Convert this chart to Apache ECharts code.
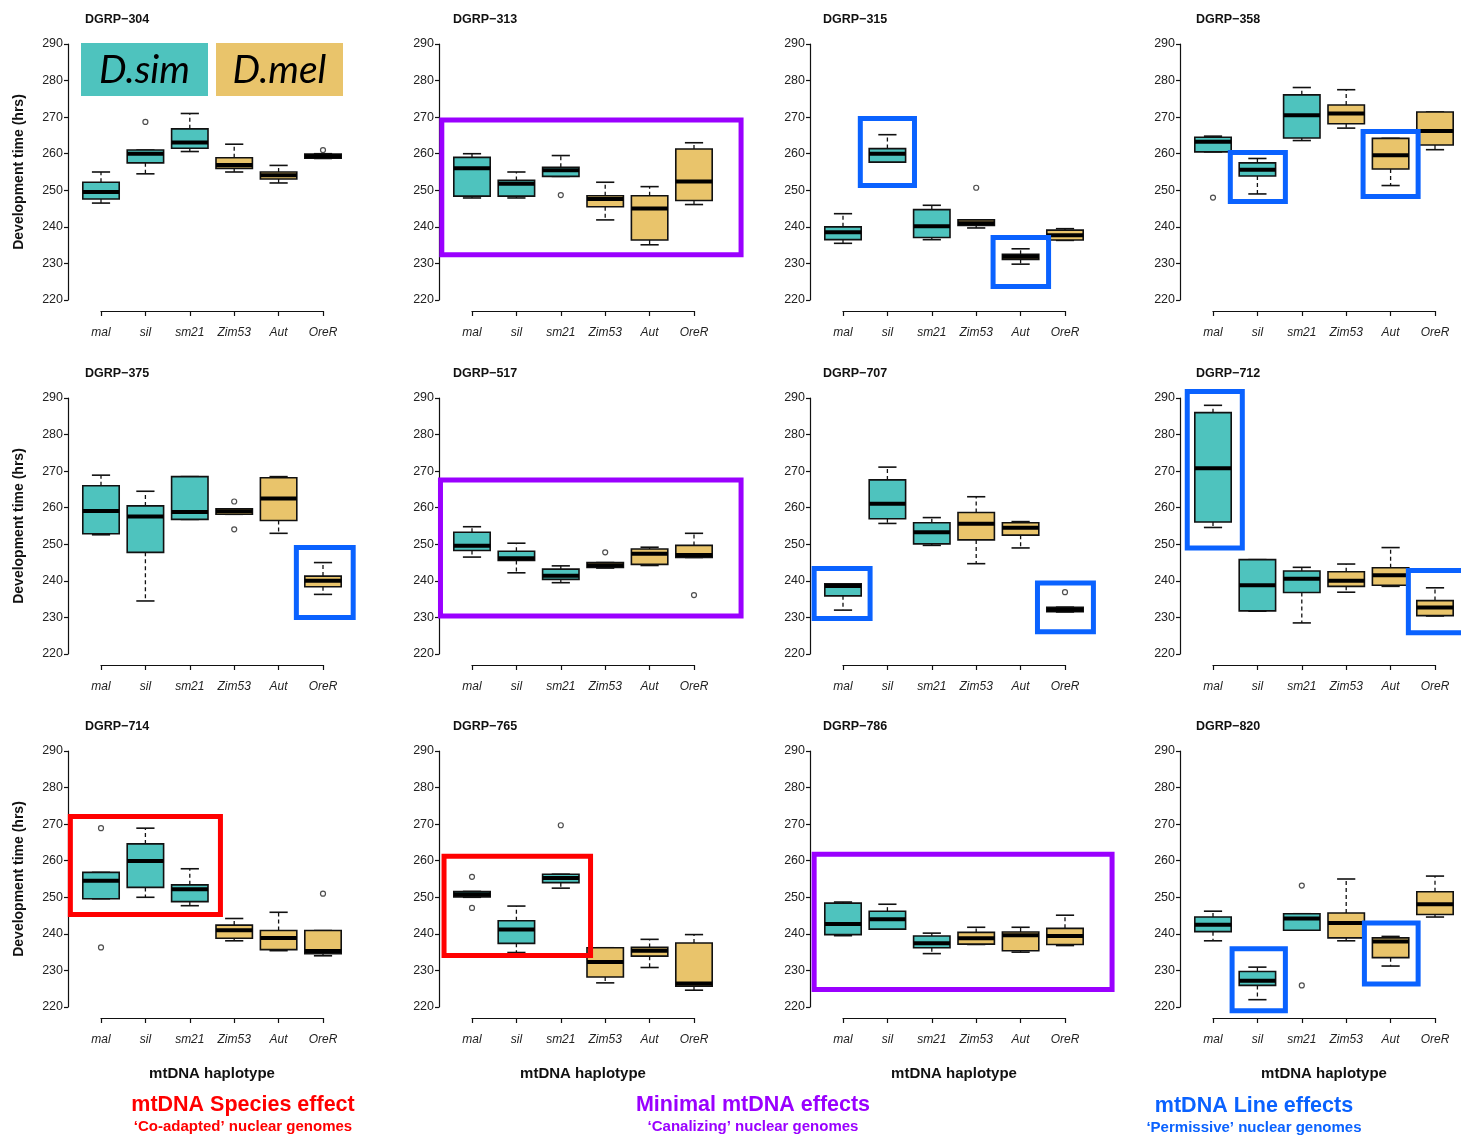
<!DOCTYPE html>
<html>
<head>
<meta charset="utf-8">
<script src="https://cdn.jsdelivr.net/npm/echarts@6/dist/echarts.min.js"></script>
<style>
  html, body { margin: 0; padding: 0; background: #fff; }
  #chart { width: 1461px; height: 1135px; }
</style>
</head>
<body>
<div id="chart"></div>
<script>
// mtDNA haplotypes on every x axis (first three D. simulans, last three D. melanogaster)
const haplotypes = ['mal', 'sil', 'sm21', 'Zim53', 'Aut', 'OreR'];
const nuclearLines = ['DGRP−304', 'DGRP−313', 'DGRP−315', 'DGRP−358',
                      'DGRP−375', 'DGRP−517', 'DGRP−707', 'DGRP−712',
                      'DGRP−714', 'DGRP−765', 'DGRP−786', 'DGRP−820'];
const yMin = 220, yMax = 290, yStep = 10;

// development time (hrs): [lower whisker, Q1, median, Q3, upper whisker] per haplotype
const dgrp304 = [[246.5, 247.6, 249.5, 252.2, 255.0], [254.5, 257.5, 260.0, 261.0, 261.0], [260.6, 261.5, 263.1, 266.8, 271.0],
                 [255.0, 256.0, 256.9, 258.9, 262.6], [252.0, 253.1, 254.1, 255.0, 256.8], [258.7, 258.8, 259.3, 259.9, 260.0]];
const dgrp313 = [[247.9, 248.4, 256.0, 259.0, 260.0], [247.9, 248.4, 251.8, 252.7, 255.0], [253.8, 253.8, 255.5, 256.3, 259.5],
                 [241.9, 245.5, 247.6, 248.5, 252.2], [235.1, 236.4, 245.0, 248.5, 251.0], [246.1, 247.2, 252.4, 261.3, 263.0]];
const dgrp315 = [[235.5, 236.5, 238.5, 240.0, 243.6], [257.7, 257.7, 260.0, 261.4, 265.2], [236.5, 237.1, 240.2, 244.7, 245.9],
                 [239.7, 240.4, 241.0, 241.9, 241.9], [229.8, 231.1, 231.8, 232.5, 234.0], [236.3, 236.4, 237.7, 239.1, 239.5]];
const dgrp358 = [[260.5, 260.5, 263.3, 264.5, 264.8], [249.0, 253.9, 255.6, 257.5, 258.7], [263.6, 264.3, 270.5, 276.1, 278.1],
                 [267.0, 268.2, 271.0, 273.3, 277.5], [251.3, 255.8, 259.6, 264.2, 264.2], [261.1, 262.4, 266.2, 271.4, 271.4]];
const dgrp375 = [[252.6, 252.9, 259.1, 266.0, 268.9], [234.5, 247.8, 257.6, 260.5, 264.5], [256.8, 256.8, 258.8, 268.5, 268.5],
                 [258.2, 258.2, 259.0, 259.7, 259.7], [253.0, 256.5, 262.5, 268.2, 268.5], [236.3, 238.4, 240.0, 241.3, 245.0]];
const dgrp517 = [[246.5, 248.3, 249.6, 253.3, 254.8], [242.2, 245.6, 246.2, 248.1, 250.3], [239.5, 240.4, 241.4, 243.2, 244.1],
                 [243.5, 243.7, 244.3, 245.0, 245.0], [244.2, 244.5, 247.4, 248.7, 249.2], [246.4, 246.4, 247.1, 249.7, 253.0]];
const dgrp707 = [[232.0, 235.9, 238.6, 239.2, 239.2], [255.7, 257.0, 261.1, 267.6, 271.1], [249.7, 250.1, 253.3, 255.9, 257.3],
                 [244.7, 251.2, 255.6, 258.7, 263.0], [249.0, 252.5, 254.5, 255.9, 256.2], [231.5, 231.6, 232.1, 232.8, 232.8]];
const dgrp712 = [[254.6, 256.1, 270.8, 286.0, 288.0], [231.7, 231.8, 238.8, 245.8, 245.8], [228.5, 236.8, 240.6, 242.7, 243.7],
                 [236.9, 238.5, 240.0, 242.5, 244.6], [238.5, 238.8, 241.5, 243.6, 249.1], [230.4, 230.5, 232.7, 234.6, 238.1]];
const dgrp714 = [[249.6, 249.6, 254.5, 256.8, 256.8], [250.0, 252.7, 259.9, 264.6, 268.9], [247.7, 248.8, 252.2, 253.4, 257.8],
                 [238.1, 238.8, 241.0, 242.4, 244.2], [235.4, 235.7, 238.9, 240.9, 245.9], [234.0, 234.6, 235.3, 240.9, 240.9]];
const dgrp765 = [[250.0, 250.1, 250.8, 251.6, 251.6], [234.9, 237.4, 241.2, 243.6, 247.6], [252.5, 254.0, 255.3, 256.3, 256.3],
                 [226.6, 228.2, 232.3, 236.2, 236.2], [230.8, 233.9, 235.4, 236.3, 238.5], [224.6, 225.7, 226.4, 237.5, 239.8]];
const dgrp786 = [[239.5, 239.8, 242.7, 248.4, 248.7], [241.3, 241.3, 244.0, 246.2, 248.1], [234.6, 236.2, 237.4, 239.4, 240.2],
                 [237.1, 237.2, 238.8, 240.4, 241.8], [235.0, 235.4, 239.6, 240.5, 241.8], [236.8, 237.1, 239.4, 241.5, 245.1]];
const dgrp820 = [[238.1, 240.6, 242.5, 244.6, 246.2], [222.0, 225.9, 227.2, 229.7, 230.9], [241.0, 241.0, 244.2, 245.5, 245.5],
                 [238.1, 238.9, 243.0, 245.7, 255.0], [231.2, 233.5, 237.9, 238.9, 239.3], [244.6, 245.3, 248.1, 251.5, 255.8]];
const boxStats = [dgrp304, dgrp313, dgrp315, dgrp358, dgrp375, dgrp517, dgrp707, dgrp712, dgrp714, dgrp765, dgrp786, dgrp820];

// points beyond the whiskers: [haplotype, hrs]
const out304 = [['sil', 268.7], ['OreR', 261.0]];
const out313 = [['sm21', 248.7]];
const out315 = [['Zim53', 250.7]];
const out358 = [['mal', 248.0]];
const out375 = [['Zim53', 261.7], ['Zim53', 254.1]];
const out517 = [['Zim53', 247.8], ['OreR', 236.1]];
const out707 = [['OreR', 236.9]];
const out712 = [];
const out714 = [['mal', 268.9], ['mal', 236.3], ['OreR', 251.0]];
const out765 = [['mal', 255.6], ['mal', 247.1], ['sm21', 269.7]];
const out786 = [];
const out820 = [['sm21', 253.2], ['sm21', 225.9]];
const outliers = [out304, out313, out315, out358, out375, out517, out707, out712, out714, out765, out786, out820];

// framed groups: [panel, left, right (in haplotype steps from 'mal'), top hrs, bottom hrs, effect]
const frames = [
  [1, -0.68, 6.06, 269.2, 232.4, 'minimal'],
  [2, 0.39, 1.61, 269.6, 251.3, 'line'],
  [2, 3.38, 4.63, 237.1, 223.7, 'line'],
  [3, 0.39, 1.63, 260.3, 246.9, 'line'],
  [3, 3.38, 4.62, 266.1, 248.3, 'line'],
  [4, 4.40, 5.68, 249.1, 230.0, 'line'],
  [5, -0.71, 6.06, 267.6, 230.4, 'minimal'],
  [6, -0.65, 0.61, 243.4, 229.7, 'line'],
  [6, 4.38, 5.64, 239.4, 226.1, 'line'],
  [7, -0.58, 0.66, 291.8, 249.0, 'line'],
  [7, 4.40, 5.75, 242.8, 225.8, 'line'],
  [8, -0.69, 2.69, 272.1, 245.3, 'species'],
  [9, -0.63, 2.67, 261.2, 234.1, 'species'],
  [10, -0.65, 6.06, 261.8, 224.8, 'minimal'],
  [11, 0.43, 1.63, 235.9, 219.0, 'line'],
  [11, 3.41, 4.62, 243.0, 226.3, 'line']
];

const SIM_FILL = '#4ec3be';
const MEL_FILL = '#e9c46b';
const EFFECT_COLORS = { species: '#ff0000', minimal: '#9a00ff', line: '#0a62ff' };
const FONT = '"Liberation Sans", Arial, sans-serif';

const colLeft = [101, 472, 843, 1213];
const rowTop = [44, 398, 751];
const titleLeft = [85, 453, 823, 1196];
const plotW = 222, plotH = 256;

function renderBox(params, api) {
  const idx = api.value(0);
  const band = api.size([1, 0])[0];
  const half = band * 0.41;
  const staple = half / 2;
  const pt = k => api.coord([idx, api.value(k)]);
  const lo = pt(1), q1 = pt(2), md = pt(3), q3 = pt(4), hi = pt(5);
  const x = lo[0];
  const whisker = { stroke: '#111', lineWidth: 1.3, lineDash: [4, 3] };
  const solid = { stroke: '#111', lineWidth: 1.6 };
  return {
    type: 'group',
    children: [
      { type: 'line', shape: { x1: x, y1: q3[1], x2: x, y2: hi[1] }, style: whisker },
      { type: 'line', shape: { x1: x, y1: q1[1], x2: x, y2: lo[1] }, style: whisker },
      { type: 'line', shape: { x1: x - staple, y1: hi[1], x2: x + staple, y2: hi[1] }, style: solid },
      { type: 'line', shape: { x1: x - staple, y1: lo[1], x2: x + staple, y2: lo[1] }, style: solid },
      { type: 'rect', shape: { x: x - half, y: q3[1], width: 2 * half, height: q1[1] - q3[1] },
        style: { fill: idx < 3 ? SIM_FILL : MEL_FILL, stroke: '#111', lineWidth: 1.6 } },
      { type: 'line', shape: { x1: x - half, y1: md[1], x2: x + half, y2: md[1] },
        style: { stroke: '#000', lineWidth: 4 } }
    ]
  };
}

function renderFrame(params, api) {
  const band = api.size([1, 0])[0];
  const top = api.coord([0, api.value(1)]);
  const bottom = api.coord([0, api.value(2)]);
  const xa = top[0] + api.value(3) * band;
  const xb = top[0] + api.value(4) * band;
  return {
    type: 'rect',
    shape: { x: xa, y: top[1], width: xb - xa, height: bottom[1] - top[1] },
    style: { fill: 'none', stroke: api.visual('color'), lineWidth: 5 }
  };
}

const grid = [], xAxis = [], yAxis = [], title = [], series = [];
boxStats.forEach((stats, p) => {
  const col = p % 4, row = Math.floor(p / 4);
  grid.push({ left: colLeft[col], top: rowTop[row], width: plotW, height: plotH });
  title.push({
    text: nuclearLines[p], left: titleLeft[col], top: rowTop[row] - 31, padding: 0,
    textStyle: { fontFamily: FONT, fontSize: 12.5, fontWeight: 'bold', color: '#111' }
  });
  xAxis.push({
    gridIndex: p, type: 'category', data: haplotypes, boundaryGap: false, offset: 11,
    axisLine: { show: true, onZero: false, lineStyle: { color: '#111', width: 1.2 } },
    axisTick: { show: true, length: 5, lineStyle: { color: '#111', width: 1.2 } },
    axisLabel: { interval: 0, margin: 16, fontFamily: FONT, fontSize: 12, fontStyle: 'italic', color: '#222' },
    splitLine: { show: false },
    name: row === 2 ? 'mtDNA haplotype' : '', nameLocation: 'middle', nameGap: 48,
    nameTextStyle: { fontFamily: FONT, fontSize: 15, fontWeight: 'bold', color: '#111' }
  });
  yAxis.push({
    gridIndex: p, type: 'value', min: yMin, max: yMax, interval: yStep, offset: 33,
    axisLine: { show: true, lineStyle: { color: '#111', width: 1.2 } },
    axisTick: { show: true, length: 4, lineStyle: { color: '#111', width: 1.2 } },
    axisLabel: { margin: 5, fontFamily: FONT, fontSize: 12.5, color: '#222' },
    splitLine: { show: false },
    name: col === 0 ? 'Development time (hrs)' : '', nameLocation: 'middle', nameGap: 42,
    nameTextStyle: { fontFamily: FONT, fontSize: 14, fontWeight: 'bold', color: '#111' }
  });
  series.push({
    type: 'custom', xAxisIndex: p, yAxisIndex: p, clip: false, z: 3,
    renderItem: renderBox,
    encode: { x: 0, y: [1, 2, 3, 4, 5] },
    data: stats.map((s, i) => [haplotypes[i]].concat(s))
  });
  series.push({
    type: 'scatter', xAxisIndex: p, yAxisIndex: p, z: 4,
    symbol: 'circle', symbolSize: 5,
    itemStyle: { color: '#fff', borderColor: '#222', borderWidth: 1.2 },
    data: outliers[p]
  });
  series.push({
    type: 'custom', xAxisIndex: p, yAxisIndex: p, clip: false, z: 10,
    renderItem: renderFrame,
    encode: { x: 0, y: [1, 2] },
    data: frames.filter(f => f[0] === p).map(f => ({
      value: [haplotypes[0], f[3], f[4], f[1], f[2]],
      itemStyle: { color: EFFECT_COLORS[f[5]] }
    }))
  });
});

const graphic = [
  { type: 'rect', shape: { x: 81, y: 43, width: 127, height: 53 }, style: { fill: SIM_FILL } },
  { type: 'rect', shape: { x: 216, y: 43, width: 127, height: 53 }, style: { fill: MEL_FILL } },
  { type: 'text', x: 144.5, y: 70, style: { text: 'D.sim', fill: '#000', font: 'italic 39px Lato, "Open Sans", sans-serif', textAlign: 'center', textVerticalAlign: 'middle' } },
  { type: 'text', x: 279.5, y: 70, style: { text: 'D.mel', fill: '#000', font: 'italic 39px Lato, "Open Sans", sans-serif', textAlign: 'center', textVerticalAlign: 'middle' } },
  { type: 'text', x: 243, y: 1105, style: { text: 'mtDNA Species effect', fill: EFFECT_COLORS.species, font: 'bold 21.5px ' + FONT, textAlign: 'center', textVerticalAlign: 'middle' } },
  { type: 'text', x: 243, y: 1127, style: { text: '‘Co-adapted’ nuclear genomes', fill: EFFECT_COLORS.species, font: 'bold 15px ' + FONT, textAlign: 'center', textVerticalAlign: 'middle' } },
  { type: 'text', x: 753, y: 1105, style: { text: 'Minimal mtDNA effects', fill: EFFECT_COLORS.minimal, font: 'bold 21.5px ' + FONT, textAlign: 'center', textVerticalAlign: 'middle' } },
  { type: 'text', x: 753, y: 1127, style: { text: '‘Canalizing’ nuclear genomes', fill: EFFECT_COLORS.minimal, font: 'bold 15px ' + FONT, textAlign: 'center', textVerticalAlign: 'middle' } },
  { type: 'text', x: 1254, y: 1106, style: { text: 'mtDNA Line effects', fill: EFFECT_COLORS.line, font: 'bold 21.5px ' + FONT, textAlign: 'center', textVerticalAlign: 'middle' } },
  { type: 'text', x: 1254, y: 1128, style: { text: '‘Permissive’ nuclear genomes', fill: EFFECT_COLORS.line, font: 'bold 15px ' + FONT, textAlign: 'center', textVerticalAlign: 'middle' } }
];

const chart = echarts.init(document.getElementById('chart'), null, { renderer: 'canvas' });
chart.setOption({
  animation: false,
  backgroundColor: '#fff',
  textStyle: { fontFamily: FONT },
  title, grid, xAxis, yAxis, series, graphic
});
</script>
</body>
</html>
